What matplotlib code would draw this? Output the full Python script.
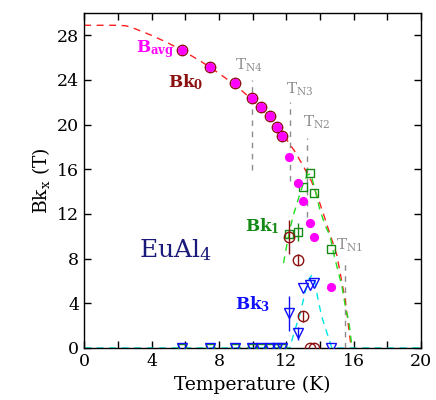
import matplotlib
matplotlib.use('Agg')
import matplotlib.pyplot as plt
from matplotlib.ticker import MultipleLocator

plt.rcParams['font.family'] = 'DejaVu Serif'
plt.rcParams['mathtext.fontset'] = 'dejavuserif'

# Data
temps = [5.8, 7.45, 8.97, 9.96, 10.47, 11.0, 11.45, 11.77,
         12.16, 12.67, 12.97, 13.4, 13.65, 14.65]
b_avg = [26.7, 25.2, 23.7, 22.4, 21.6, 20.8, 19.8, 19.0,
         17.1, 14.8, 13.2, 11.15, 9.96, 5.5]

bk0_t = [5.8, 7.45, 8.97, 9.96, 10.47, 11.0, 11.45, 11.77,
         12.16, 12.67, 12.97, 13.4, 13.65]
bk0 = [26.7, 25.2, 23.7, 22.4, 21.6, 20.8, 19.8, 19.0,
       9.96, 7.9, 2.85, 0.0, 0.0]
bk0_err = [0.3, 0.3, 0.3, 0.3, 0.3, 0.3, 0.3, 0.3,
           1.5, 0.5, 0.5, 0.0, 0.0]

bk1 = [0, 0, 0, 0, 0, 0, 0, 0, 10.2, 10.4, 14.4, 15.7, 13.9, 8.9]
bk1_err = [0, 0, 0, 0, 0, 0, 0, 0, 0.0, 0.8, 0, 0, 0, 0]

bk3 = [0, 0, 0, 0, 0, 0, 0, 0, 3.1, 1.3, 5.35, 5.65, 5.85, 0.0]
bk3_err = [0, 0, 0, 0, 0, 0, 0, 0, 1.6, 0.6, 0, 0, 0, 0]

# guide curves
red_t = [0, 1, 2, 2.5, 3, 4, 5, 6, 7, 8, 9, 10, 11, 11.5, 12, 12.5, 13,
         13.5, 14, 14.2, 14.5, 15, 15.5, 15.85]
red_b = [28.9, 28.9, 28.9, 28.85, 28.6, 28.0, 27.3, 26.5, 25.6, 24.6, 23.5,
         22.2, 20.6, 19.7, 18.7, 17.6, 16.3, 14.9, 12.9, 12.0, 10.6, 8.3,
         4.2, 0.0]
green_t = [11.83, 12.0, 12.2, 12.42, 12.72, 13.0, 13.25, 13.45, 13.7, 14.0,
           14.3, 14.6, 14.8, 15.05, 15.3, 15.55, 15.7, 15.9]
green_b = [7.6, 9.0, 10.6, 11.9, 13.4, 14.7, 15.5, 15.6, 14.2, 12.3,
           11.0, 10.0, 8.5, 7.0, 5.5, 3.3, 2.5, 0.0]
cyan_t = [0, 12.2, 12.33, 12.55, 12.82, 13.1, 13.35, 13.5, 13.7, 13.9,
          14.1, 14.4, 14.7, 20]
cyan_b = [0, 0, 0.7, 1.8, 3.1, 4.9, 6.2, 6.5, 5.8, 4.2, 2.8, 1.4, 0, 0]

# transition temperatures: (T, y bottom, y top)
tn_t = [9.99, 12.19, 13.25, 15.47]
tn_lo = [15.9, 15.0, 11.7, 0.0]
tn_hi = [24.0, 22.0, 18.8, 8.0]
tn_names = ['N4', 'N3', 'N2', 'N1']
tn_lab_x = [9.8, 12.8, 13.8, 15.75]
tn_lab_y = [25.3, 23.2, 20.2, 9.2]

fig = plt.figure(figsize=(4.36, 4.0), dpi=100)
ax = fig.add_axes([0.193, 0.13, 0.773, 0.8375])

gray = '#8c8c8c'
dred = '#8b1010'
magenta = '#ff00ff'
green = '#148a14'
blue = '#1010ff'
cyan = '#00e5e5'

for t, lo, hi in zip(tn_t, tn_lo, tn_hi):
    ax.plot([t, t], [lo, hi], color=gray, ls=(0, (4, 4)), lw=1.0, zorder=1)

ax.plot(red_t, red_b, color='#ff2020', ls=(0, (5, 4)), lw=1.0, zorder=2)
ax.plot(green_t, green_b, color='#20e020', ls=(0, (5, 4)), lw=1.0, zorder=2)
ax.plot(cyan_t, cyan_b, color=cyan, ls=(0, (5, 4)), lw=1.0, zorder=2)

ax.errorbar(temps, bk1, yerr=bk1_err, fmt='s', ms=6, mfc='none', mec=green,
            mew=1.0, ecolor=green, elinewidth=1.0, capsize=0, zorder=3)
ax.errorbar(bk0_t, bk0, yerr=bk0_err, fmt='o', ms=7.5, mfc='none', mec=dred,
            mew=1.0, ecolor=dred, elinewidth=1.0, capsize=0, zorder=4)
ax.plot(temps, b_avg, 'o', ms=5.6, color=magenta, zorder=5)
ax.errorbar(temps, bk3, yerr=bk3_err, fmt='v', ms=7.5, mfc='none', mec=blue,
            mew=1.0, ecolor=blue, elinewidth=1.0, capsize=0, zorder=6)

for x, y, n in zip(tn_lab_x, tn_lab_y, tn_names):
    ax.text(x, y, r'$\mathrm{T}_{\mathrm{%s}}$' % n, color=gray, fontsize=11,
            ha='center', va='center')

ax.text(4.2, 26.8, r'$\mathbf{B}_{\mathbf{avg}}$', color=magenta, fontsize=12,
        ha='center', va='center')
ax.text(6.0, 23.8, r'$\mathbf{Bk}_{\mathbf{0}}$', color=dred, fontsize=12,
        ha='center', va='center')
ax.text(10.6, 10.9, r'$\mathbf{Bk}_{\mathbf{1}}$', color=green, fontsize=12,
        ha='center', va='center')
ax.text(10.0, 3.9, r'$\mathbf{Bk}_{\mathbf{3}}$', color=blue, fontsize=12,
        ha='center', va='center')
ax.text(5.4, 8.8, r'$\mathrm{EuAl}_{4}$', color='#1a1a7a', fontsize=18,
        ha='center', va='center')

ax.set_xlim(0, 20)
ax.set_ylim(0, 30)
ax.xaxis.set_major_locator(MultipleLocator(4))
ax.xaxis.set_minor_locator(MultipleLocator(2))
ax.yaxis.set_major_locator(MultipleLocator(4))
ax.tick_params(which='both', direction='in', top=True, right=True,
               length=5, width=1.0, labelsize=12.5)
ax.set_xlabel('Temperature (K)', fontsize=13.5)
ax.set_ylabel(r'$\mathrm{Bk}_{\mathrm{x}}$ (T)', fontsize=13.5)
for s in ax.spines.values():
    s.set_linewidth(1.0)

fig.savefig('out.png', dpi=100)
